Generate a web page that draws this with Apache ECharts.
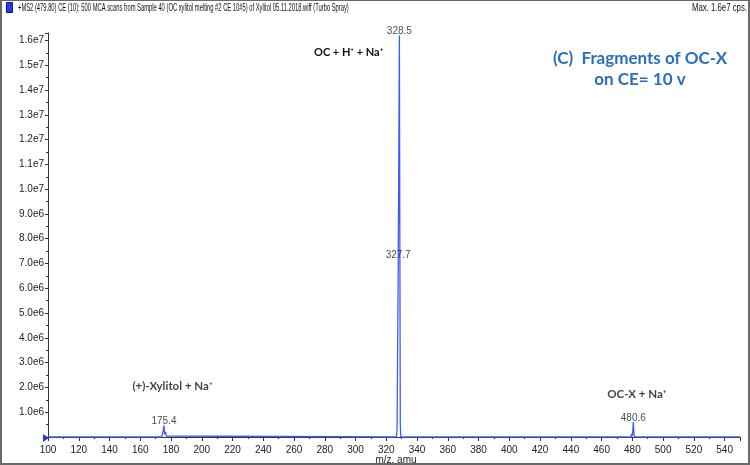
<!DOCTYPE html>
<html>
<head>
<meta charset="utf-8">
<script src="https://cdn.jsdelivr.net/npm/echarts@6/dist/echarts.min.js"></script>
<style>
  html, body { margin: 0; padding: 0; background: #fff; }
  #main { width: 750px; height: 465px; box-sizing: border-box; border: 2px solid #6a6a6a; border-top-width: 1px; }
</style>
</head>
<body>
<div id="main"></div>
<script>
// spectrum profile (m/z, intensity in cps)
var mz = [100, 173.9, 174.5, 175.0, 175.4, 175.8, 176.1, 176.5, 176.9, 177.3,
  326.6, 327.0, 327.3, 327.7, 328.1, 328.5, 328.8, 329.1, 329.4,
  461.8, 462.2, 462.6,
  479.0, 479.5, 479.9, 480.3, 480.6, 481.0, 481.4, 550];
var intensity = [0, 0, 140000, 280000, 470000, 110000, 60000, 200000, 40000, 0,
  0, 300000, 3000000, 6400000, 11000000, 16200000, 8000000, 500000, 0,
  0, 60000, 0,
  0, 130000, 30000, 250000, 600000, 150000, 0, 0];

// labelled peaks
var peakMz = [175.4, 327.7, 328.5, 480.6];
var peakInt = [470000, 6400000, 16200000, 600000];

// fragment annotations (anchored in data coordinates)
var noteText = ['(+)-Xylitol + Na⁺', 'OC-X + Na⁺'];
var noteMz = [181, 483];
var noteInt = [2050000, 1720000];

var myChart = echarts.init(document.getElementById('main'));

var spec = [];
for (var i = 0; i < mz.length; i++) {
  spec.push([mz[i], intensity[i]]);
}
var peaks = [];
for (var j = 0; j < peakMz.length; j++) {
  var item = { value: [peakMz[j], peakInt[j]] };
  if (peakMz[j] === 327.7) {
    item.label = { offset: [0, -19] };
  }
  peaks.push(item);
}
var notes = noteText.map(function (t, k) {
  return { value: [noteMz[k], noteInt[k]], name: t };
});

function yFmt(v) {
  if (v === 0 || v > 16000000) return '';
  if (v >= 1e7) return (v / 1e7).toFixed(1) + 'e7';
  return (v / 1e6).toFixed(1) + 'e6';
}
function xFmt(v) {
  return v > 540 ? '' : String(v);
}

var axisTxt = { color: '#222', fontSize: 10, fontFamily: 'Liberation Sans, Arial, sans-serif' };
var headFont = '10px Liberation Sans, Arial, sans-serif';

var option = {
  animation: false,
  grid: { left: 46, right: 8, top: 32, bottom: 26, outerBoundsMode: 'none' },
  title: [
    {
      text: '(C)  Fragments of OC-X\non CE= 10 v',
      left: 633, top: 42, textAlign: 'center',
      textStyle: { fontSize: 17, fontWeight: 'bold', color: '#2a6ebd', lineHeight: 21, fontFamily: 'Lato, Carlito, sans-serif', align: 'center' },
    },
  ],
  graphic: [
    { type: 'rect', left: 4, top: 1, shape: { width: 6, height: 10 }, style: { fill: '#1e3cff', stroke: '#1a1a60', lineWidth: 1 } },
    {
      type: 'text', x: 16, y: 2, scaleX: 0.58,
      style: { text: '+MS2 (479.80) CE (10): 500 MCA scans from Sample 40 (OC xylitol melting #2 CE 10#5) of Xylitol 05.11.2018.wiff (Turbo Spray)', font: headFont, fill: '#111' },
    },
    {
      type: 'text', x: 745, y: 2, scaleX: 0.78,
      style: { text: 'Max. 1.6e7 cps.', font: headFont, fill: '#111', align: 'right' },
    },
    { type: 'text', left: 312, top: 46, style: { text: 'OC + H⁺ + Na⁺', font: 'bold 11px Lato, sans-serif', fill: '#111' } },
    { type: 'text', x: 394, y: 454, style: { text: 'm/z, amu', font: '10px Liberation Sans, Arial, sans-serif', fill: '#222', align: 'center' } },
    { type: 'polygon', shape: { points: [[41, 433], [47, 437], [41, 441]] }, style: { fill: '#1e3cff' } },
  ],
  xAxis: {
    type: 'value',
    min: 100, max: 550, interval: 20,
    axisLine: { show: true, lineStyle: { color: '#333', width: 1 } },
    axisTick: { show: true, length: 4, lineStyle: { color: '#333' } },
    minorTick: { show: true, splitNumber: 2, length: 2, lineStyle: { color: '#333' } },
    axisLabel: Object.assign({ margin: 8, formatter: xFmt }, axisTxt),
    splitLine: { show: false },
  },
  yAxis: {
    type: 'value',
    min: 0, max: 16300000, interval: 1000000,
    axisLine: { show: true, lineStyle: { color: '#333', width: 1 } },
    axisTick: { show: true, length: 3, lineStyle: { color: '#333' } },
    minorTick: { show: true, splitNumber: 2, length: 2, lineStyle: { color: '#333' } },
    axisLabel: Object.assign({ margin: 4, formatter: yFmt }, axisTxt),
    splitLine: { show: false },
  },
  series: [
    {
      type: 'line',
      data: spec,
      symbol: 'none',
      lineStyle: { color: '#3d5cf5', width: 1.3 },
      z: 3,
    },
    {
      type: 'scatter',
      data: peaks,
      symbolSize: 0,
      label: {
        show: true, position: 'top', distance: -1,
        formatter: function (p) { return p.value[0].toFixed(1); },
        color: '#222', fontSize: 10, fontFamily: 'Liberation Sans, Arial, sans-serif',
      },
      z: 4,
    },
    {
      type: 'scatter',
      data: notes,
      symbolSize: 0,
      label: {
        show: true, position: 'inside',
        formatter: '{b}',
        color: '#111', fontSize: 11.5, fontWeight: 'bold', fontFamily: 'Lato, sans-serif',
      },
      z: 4,
    },
  ],
};

myChart.setOption(option);
</script>
</body>
</html>
